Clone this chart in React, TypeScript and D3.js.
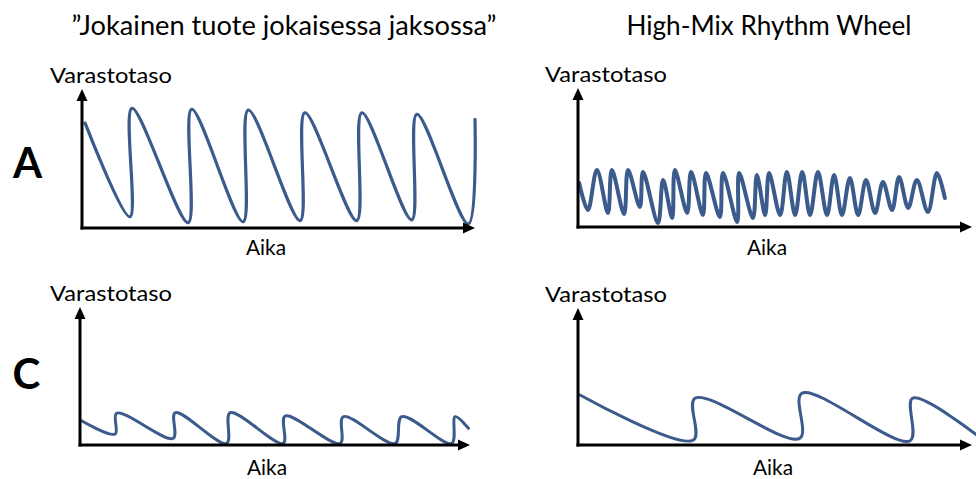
import React from 'react';
import * as d3 from 'd3';

// Column titles and labels
const columnTitles = ['\u201DJokainen tuote jokaisessa jaksossa\u201D', 'High-Mix Rhythm Wheel'];
const rowLetters = ['A', 'C'];
const yAxisLabel = 'Varastotaso';
const xAxisLabel = 'Aika';

// Panel A, left: every product every cycle (time 0-100, inventory level 0-100)
const aLeftTime = [0.8, 12.2, 12.7, 27.0, 27.9, 41.0, 42.3, 55.5, 56.7, 69.9, 71.2, 83.9, 85.2, 98.3, 100];
const aLeftLevel = [75.5, 8.1, 86.1, 3.8, 85.4, 4.5, 84.9, 5.3, 82.9, 5.3, 82.9, 5.8, 81.8, 2.9, 78.2];

// Panel A, right: High-Mix Rhythm Wheel
const aRightTime = [0.3, 2.5, 4.8, 7.6, 8.6, 11.7, 12.7, 15.7, 16.5, 20.3, 21.6, 23.9, 24.6, 27.7, 28.7, 31.7, 32.5, 36.0, 36.8, 40.4, 40.9, 44.4, 45.4, 47.5, 48.5, 51.3, 53.0, 55.1, 56.9, 58.9, 60.9, 63.2, 65.0, 67.0, 69.0, 71.1, 73.1, 75.4, 77.4, 79.7, 81.5, 83.8, 86.0, 88.8, 91.1, 93.1];
const aRightLevel = [31.7, 12.2, 41.0, 10.1, 41.0, 9.4, 41.0, 14.4, 39.6, 2.9, 33.8, 6.5, 41.0, 10.1, 39.6, 8.6, 38.8, 7.2, 38.8, 3.6, 38.8, 6.5, 37.4, 8.6, 38.8, 8.6, 39.6, 8.6, 39.6, 8.6, 39.6, 8.6, 37.4, 8.6, 35.3, 8.6, 33.8, 10.1, 32.4, 12.2, 36.0, 13.7, 33.8, 10.8, 38.8, 20.9];

// Panel C, left
const cLeftTime = [0.4, 9.0, 9.4, 23.9, 24.4, 37.6, 38.5, 52.1, 52.6, 66.7, 67.5, 80.8, 82.5, 95.3, 96.2, 99.6];
const cLeftLevel = [17.6, 8.0, 23.0, 4.9, 23.4, 1.2, 23.4, 1.2, 21.0, 1.2, 20.5, 1.2, 20.5, 1.2, 20.5, 12.1];

// Panel C, right
const cRightTime = [0.5, 29.3, 29.7, 56.3, 56.8, 84.3, 84.9, 101.2];
const cRightLevel = [36.5, 3.6, 34.1, 4.9, 37.7, 3.1, 34.1, 7.3];

const FONT = 'Lato, "Open Sans", sans-serif';
const CURVE = '#3B5B8C';

type PanelProps = {
  time: number[];
  level: number[];
  x0: number; x1: number; y0: number; y1: number;
  strokeW: number;
  yLabelX: number; yLabelY: number;
  xLabelX: number; xLabelY: number;
};

function Panel({ time, level, x0, x1, y0, y1, strokeW, yLabelX, yLabelY, xLabelX, xLabelY }: PanelProps) {
  const x = d3.scaleLinear().domain([0, 100]).range([x0, x1]);
  const y = d3.scaleLinear().domain([0, 100]).range([y0, y1]);
  const pts: [number, number][] = time.map((t, i) => [t, level[i]]);
  const line = d3.line<[number, number]>()
    .x(d => x(d[0]))
    .y(d => y(d[1]))
    .curve(d3.curveCatmullRom.alpha(0.5));
  const ah = 12, aw = 5.5;
  return (
    <g>
      <path d={line(pts) || ''} fill="none" stroke={CURVE} strokeWidth={strokeW} strokeLinecap="round" strokeLinejoin="round" />
      <line x1={x0} y1={y0 + 1.5} x2={x0} y2={y1 + ah - 1} stroke="#000" strokeWidth={3} />
      <polygon points={`${x0},${y1} ${x0 - aw},${y1 + ah} ${x0 + aw},${y1 + ah}`} fill="#000" />
      <line x1={x0 - 1.5} y1={y0} x2={x1 - ah + 1} y2={y0} stroke="#000" strokeWidth={3} />
      <polygon points={`${x1},${y0} ${x1 - ah},${y0 - aw} ${x1 - ah},${y0 + aw}`} fill="#000" />
      <text x={yLabelX} y={yLabelY} fontFamily={FONT} fontSize={21} fill="#000"
        textLength={122} lengthAdjust="spacingAndGlyphs">{yAxisLabel}</text>
      <text x={xLabelX} y={xLabelY} fontFamily={FONT} fontSize={21} fill="#000" textAnchor="middle"
        textLength={40} lengthAdjust="spacingAndGlyphs">{xAxisLabel}</text>
    </g>
  );
}

export default function App() {
  return (
    <svg width={976} height={479} style={{ position: 'absolute', left: 0, top: 0, background: '#fff' }}>
      <rect x={0} y={0} width={976} height={479} fill="#fff" />
      <text x={284} y={35} fontFamily={FONT} fontSize={26} textAnchor="middle" fill="#000"
        textLength={425} lengthAdjust="spacingAndGlyphs">{columnTitles[0]}</text>
      <text x={769} y={35} fontFamily={FONT} fontSize={26} textAnchor="middle" fill="#000"
        textLength={285} lengthAdjust="spacingAndGlyphs">{columnTitles[1]}</text>
      <text x={27.5} y={178} fontFamily={FONT} fontSize={42} fontWeight="bold" textAnchor="middle" fill="#000">{rowLetters[0]}</text>
      <text x={26.5} y={389} fontFamily={FONT} fontSize={42} fontWeight="bold" textAnchor="middle" fill="#000">{rowLetters[1]}</text>

      <Panel time={aLeftTime} level={aLeftLevel} x0={82} x1={475} y0={228} y1={89} strokeW={3.2}
        yLabelX={50} yLabelY={83} xLabelX={266} xLabelY={255} />
      <Panel time={aRightTime} level={aRightLevel} x0={578} x1={972} y0={227} y1={88} strokeW={4}
        yLabelX={545} yLabelY={82} xLabelX={767} xLabelY={255} />
      <Panel time={cLeftTime} level={cLeftLevel} x0={80} x1={470} y0={445} y1={307} strokeW={3}
        yLabelX={50} yLabelY={301} xLabelX={267} xLabelY={475} />
      <Panel time={cRightTime} level={cRightLevel} x0={578} x1={972} y0={445} y1={308} strokeW={3}
        yLabelX={545} yLabelY={302} xLabelX={773} xLabelY={475} />
    </svg>
  );
}
